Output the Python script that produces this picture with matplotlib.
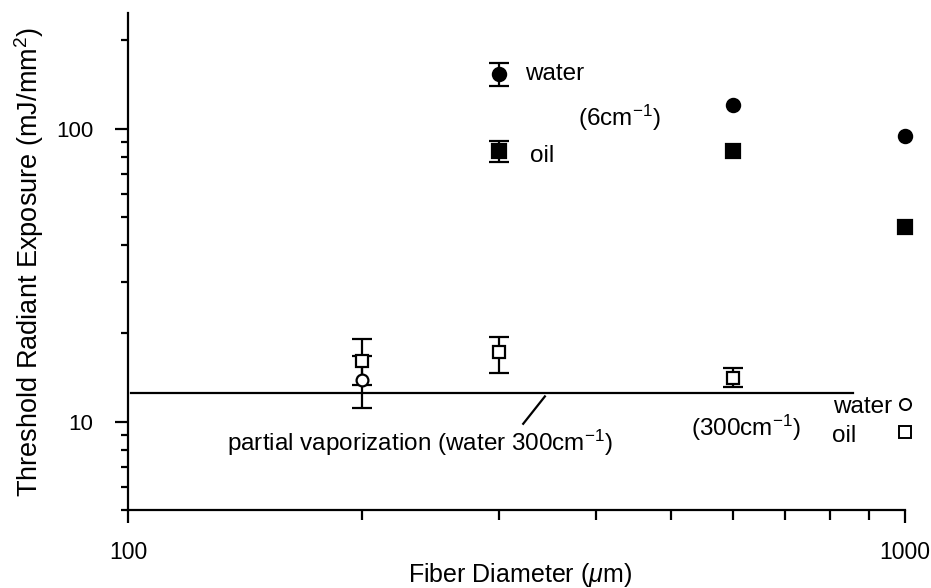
import matplotlib
matplotlib.use("Agg")
import matplotlib.pyplot as plt
from matplotlib.ticker import LogLocator, FixedLocator, NullFormatter, FixedFormatter

plt.rcParams['font.family'] = ['Liberation Sans', 'DejaVu Sans']
plt.rcParams['mathtext.fontset'] = 'custom'
plt.rcParams['mathtext.rm'] = 'Liberation Sans'
plt.rcParams['mathtext.it'] = 'Liberation Sans:italic'

# 6 cm^-1 absorption (filled markers)
x_6 = [300, 600, 1000]
water_6 = [153, 120, 94]
water_6_err_lo = [13, 0, 0]
water_6_err_hi = [14, 0, 0]
oil_6 = [84, 84, 46]
oil_6_err_lo = [7, 0, 0]
oil_6_err_hi = [7, 0, 0]

# 300 cm^-1 absorption (open markers)
x_300_oil = [200, 300, 600]
oil_300 = [16.1, 17.3, 14.1]
oil_300_err_lo = [2.8, 2.6, 1.0]
oil_300_err_hi = [3.1, 2.2, 1.2]
x_300_water = [200]
water_300 = [13.9]
water_300_err_lo = [2.8]
water_300_err_hi = [2.8]

# legend-like key markers
key_x = [1000, 1000]
key_y = [11.5, 9.2]

# partial vaporization threshold
pv_x = [101, 857]
pv_y = [12.55, 12.55]

fig = plt.figure(figsize=(9.31, 5.88), dpi=100)
ax = fig.add_axes([0.1375, 0.1327, 0.972 - 0.1375, 0.9779 - 0.1327])
ax.set_xscale('log')
ax.set_yscale('log')
ax.set_xlim(100, 1000)
ax.set_ylim(5, 248)

lw = 1.6
ax.plot(pv_x, pv_y, color='black', lw=lw)


def draw(xs, ys, lo, hi, marker, filled, ms):
    idx = [i for i in range(len(xs)) if lo[i] > 0 or hi[i] > 0]
    if idx:
        ax.errorbar([xs[i] for i in idx], [ys[i] for i in idx],
                    yerr=[[lo[i] for i in idx], [hi[i] for i in idx]],
                    fmt='none', ecolor='black', capsize=7, elinewidth=lw,
                    capthick=lw, zorder=2)
    ax.plot(xs, ys, marker, ls='none', mfc='black' if filled else 'white',
            mec='black', mew=lw, ms=ms, zorder=3, clip_on=False)


draw(x_6, water_6, water_6_err_lo, water_6_err_hi, 'o', True, 9.5)
draw(x_6, oil_6, oil_6_err_lo, oil_6_err_hi, 's', True, 9.5)
draw(x_300_water, water_300, water_300_err_lo, water_300_err_hi, 'o', False, 8.5)
draw(x_300_oil, oil_300, oil_300_err_lo, oil_300_err_hi, 's', False, 8.5)
ax.plot(key_x[:1], key_y[:1], 'o', mfc='white', mec='black', mew=1.4, ms=8, clip_on=False)
ax.plot(key_x[1:], key_y[1:], 's', mfc='white', mec='black', mew=1.4, ms=8, clip_on=False)

fs = 17.5
ax.text(324, 153, 'water', fontsize=fs, ha='left', va='center')
ax.text(379, 109, '(6cm$^{-1}$)', fontsize=fs, ha='left', va='center')
ax.text(329, 80.5, 'oil', fontsize=fs, ha='left', va='center')
ax.text(531, 9.5, '(300cm$^{-1}$)', fontsize=fs, ha='left', va='center')
ax.text(962, 11.2, 'water', fontsize=fs, ha='right', va='center')
ax.text(865, 8.95, 'oil', fontsize=fs, ha='right', va='center')
ax.text(134, 8.5, 'partial vaporization (water 300cm$^{-1}$)', fontsize=fs, ha='left', va='center')
ax.plot([322.6, 344], [9.84, 12.2], color='black', lw=lw)

for s in ['top', 'right']:
    ax.spines[s].set_visible(False)
for s in ['left', 'bottom']:
    ax.spines[s].set_linewidth(lw)

ax.xaxis.set_major_locator(FixedLocator([100, 1000]))
ax.xaxis.set_major_formatter(FixedFormatter(['100', '1000']))
ax.xaxis.set_minor_locator(LogLocator(base=10, subs=range(2, 10)))
ax.xaxis.set_minor_formatter(NullFormatter())
ax.yaxis.set_major_locator(FixedLocator([10, 100]))
ax.yaxis.set_major_formatter(FixedFormatter(['10', '100']))
ax.yaxis.set_minor_locator(LogLocator(base=10, subs=range(2, 10)))
ax.yaxis.set_minor_formatter(NullFormatter())

ax.tick_params(which='major', length=9.5, width=lw, direction='out')
ax.tick_params(which='minor', length=5, width=lw, direction='out')
ax.tick_params(axis='x', which='major', pad=13, labelsize=16.5)
ax.tick_params(axis='x', which='minor', length=7)
ax.tick_params(axis='y', which='major', pad=15.5, labelsize=16)

ax.set_xlabel('Fiber Diameter ($\\mu$m)', fontsize=18, va='top')
ax.xaxis.set_label_coords(0.5 + 4 / 777, (510 - 561) / 497)
ax.set_ylabel('Threshold Radiant Exposure (mJ/mm$^2$)', fontsize=19.5)
ax.yaxis.set_label_coords((46 - 128) / 777, 0.5)

fig.savefig('out.png', dpi=100)
